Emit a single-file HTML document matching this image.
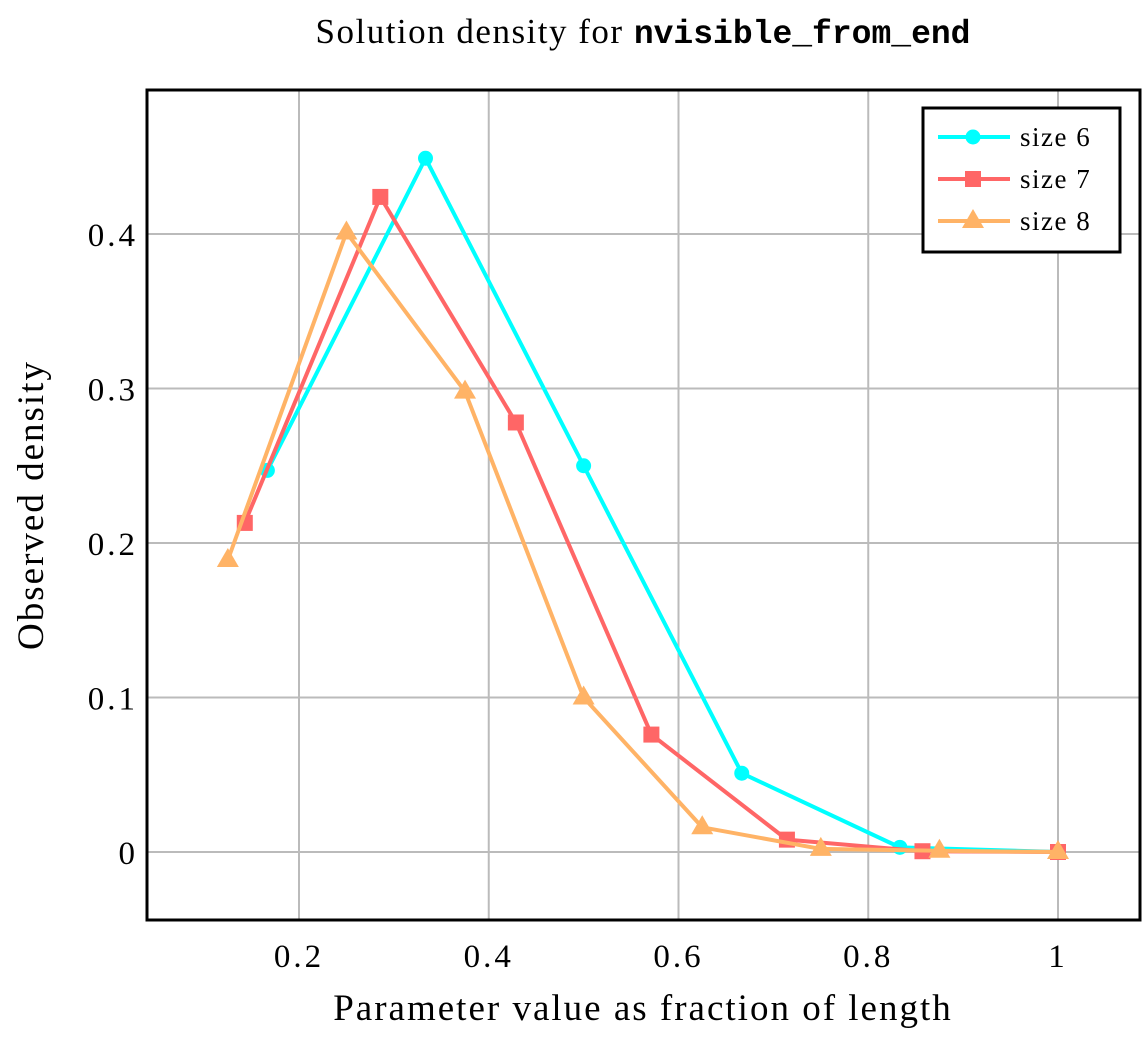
<!DOCTYPE html>
<html><head><meta charset="utf-8"><style>
body{margin:0;background:#fff}
svg text{font-family:"Liberation Serif",serif;fill:#000}
</style></head><body>
<svg id="chart" width="1142" height="1043" xmlns="http://www.w3.org/2000/svg">
<text x="643" y="43" font-size="35" letter-spacing="1.5" text-anchor="middle">Solution density for <tspan font-family="Liberation Mono, monospace" font-weight="bold" font-size="33" letter-spacing="0">nvisible_from_end</tspan></text>
<g id="grid"></g>
<g id="ticks"></g>
<g id="series"></g>
<rect x="147" y="90" width="993" height="830" fill="none" stroke="#000" stroke-width="3"/>
<text x="643" y="1020" font-size="37" letter-spacing="2" text-anchor="middle">Parameter value as fraction of length</text>
<text transform="translate(43,505) rotate(-90)" font-size="37" letter-spacing="2" text-anchor="middle">Observed density</text>
<g>
<rect x="923" y="108" width="197" height="144" fill="#fff" stroke="#000" stroke-width="3"/>
<g id="legend-items"></g>
</g>
</svg>
<script>
const xTicks=[0.2,0.4,0.6,0.8,1];
const xTickLabels=["0.2","0.4","0.6","0.8","1"];
const yTicks=[0,0.1,0.2,0.3,0.4];
const yTickLabels=["0","0.1","0.2","0.3","0.4"];
const seriesNames=["size 6","size 7","size 8"];
const x6=[1/6,2/6,3/6,4/6,5/6,1];
const y6=[0.247,0.449,0.250,0.051,0.003,0];
const x7=[1/7,2/7,3/7,4/7,5/7,6/7,1];
const y7=[0.213,0.424,0.278,0.076,0.008,0.0005,0];
const x8=[1/8,2/8,3/8,4/8,5/8,6/8,7/8,1];
const y8=[0.189,0.401,0.298,0.100,0.016,0.002,0.0008,0];
const NS="http://www.w3.org/2000/svg";
const X=v=>299+(v-0.2)*948.75;
const Y=v=>852-v*1545;
function mk(t,a,p){const e=document.createElementNS(NS,t);for(const k in a)e.setAttribute(k,a[k]);p.appendChild(e);return e;}
const grid=document.getElementById('grid'),ticks=document.getElementById('ticks');
xTicks.forEach((v,i)=>{
 const l=mk('line',{x1:X(v),x2:X(v),y1:90,y2:920,stroke:'#bbb','stroke-width':2},grid);
 
 
 const t=mk('text',{x:X(v),y:967,'font-size':33,'letter-spacing':3,'text-anchor':'middle'},ticks);t.textContent=xTickLabels[i];
 
 
});
yTicks.forEach((v,i)=>{
 const l=mk('line',{x1:147,x2:1140,y1:Y(v),y2:Y(v),stroke:'#bbb','stroke-width':2},grid);
 
 
 const t=mk('text',{x:138,y:Y(v)+12,'font-size':33,'letter-spacing':3,'text-anchor':'end'},ticks);t.textContent=yTickLabels[i];
 
 
});
const colors=["#00ffff","#ff6666","#ffb366"];
function marker(k,cx,cy,p){
 if(k===0)return mk('circle',{cx,cy,r:7.5,fill:colors[0]},p);
 if(k===1)return mk('rect',{x:cx-8,y:cy-8,width:16,height:16,fill:colors[1]},p);
 return mk('polygon',{points:`${cx},${cy-12} ${cx+11},${cy+7} ${cx-11},${cy+7}`,fill:colors[2]},p);
}
const S=document.getElementById('series');
[[x6,y6],[x7,y7],[x8,y8]].forEach(([xs,ys],k)=>{
 const g=mk('g',{},S);
 
 
 const pl=mk('polyline',{points:xs.map((x,i)=>X(x)+','+Y(ys[i])).join(' '),fill:'none',stroke:colors[k],'stroke-width':4,'stroke-linejoin':'round'},g);
 
 
 xs.forEach((x,i)=>{const m=marker(k,X(x),Y(ys[i]),g);
  
  });
});
const L=document.getElementById('legend-items');
seriesNames.forEach((n,k)=>{
 const y=137+k*42;
 const g=mk('g',{},L);
 
 
 mk('line',{x1:938,x2:1010,y1:y,y2:y,stroke:colors[k],'stroke-width':4},g);
 marker(k,973,y,g);
 const t=mk('text',{x:1020,y:y+9,'font-size':27,'letter-spacing':1.5},g);t.textContent=n;
});
</script>
</body></html>
